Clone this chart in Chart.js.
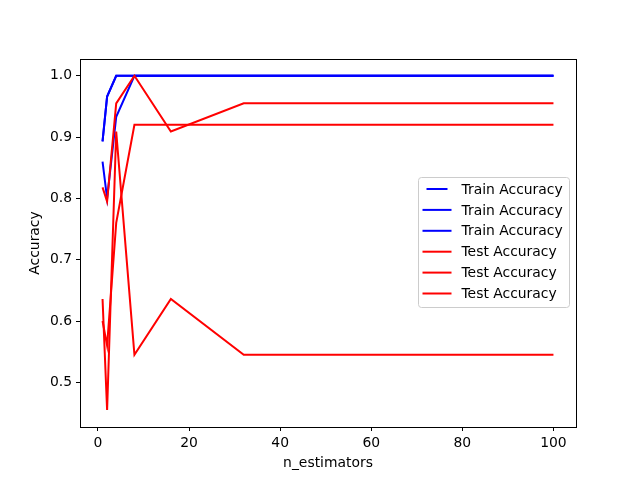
<!DOCTYPE html>
<html>
<head>
<meta charset="utf-8">
<script src="https://cdn.jsdelivr.net/npm/chart.js@4/dist/chart.umd.min.js"></script>
<style>
  html, body { margin: 0; padding: 0; background: #fff; }
  #wrap { width: 640px; height: 480px; }
</style>
</head>
<body>
<div id="wrap"><canvas id="chart" width="640" height="480"></canvas></div>
<script>
// n_estimators values on the x axis
const nEstimators = [1, 2, 4, 8, 16, 32, 64, 100];

// accuracy curves
const trainAccA = [0.893, 0.966, 1.0, 1.0, 1.0, 1.0, 1.0, 1.0];
const trainAccB = [0.860, 0.800, 0.933, 1.0, 1.0, 1.0, 1.0, 1.0];
const trainAccC = [0.893, 0.966, 1.0, 1.0, 1.0, 1.0, 1.0, 1.0];
const testAccA = [0.818, 0.795, 0.955, 1.0, 0.909, 0.955, 0.955, 0.955];
const testAccB = [0.600, 0.560, 0.760, 0.920, 0.920, 0.920, 0.920, 0.920];
const testAccC = [0.636, 0.455, 0.909, 0.545, 0.636, 0.545, 0.545, 0.545];

const seriesLabels = ['Train Accuracy', 'Train Accuracy', 'Train Accuracy',
                      'Test Accuracy', 'Test Accuracy', 'Test Accuracy'];

// tick labels
const xTicks = [0, 20, 40, 60, 80, 100];
const yTicks = [0.5, 0.6, 0.7, 0.8, 0.9, 1.0];

const FONT = "'DejaVu Sans', sans-serif";
const BLUE = '#0000ff';
const RED = '#ff0000';

function toPoints(ys) {
  return nEstimators.map((x, i) => ({ x: x, y: ys[i] }));
}

function makeSet(label, ys, color, order) {
  return {
    label: label,
    data: toPoints(ys),
    borderColor: color,
    backgroundColor: color,
    borderWidth: 2,
    pointRadius: 0,
    tension: 0,
    fill: false,
    order: order
  };
}

const allSeries = [trainAccA, trainAccB, trainAccC, testAccA, testAccB, testAccC];
const datasets = allSeries.map((ys, i) =>
  makeSet(seriesLabels[i], ys, i < 3 ? BLUE : RED, i < 3 ? 1 : 0));

/**
 * Frame + matplotlib-like legend box
 */
const mplDecor = {
  id: 'mplDecor',
  afterDraw(chart) {
    const ctx = chart.ctx;
    const area = chart.chartArea;
    ctx.save();

    // axes frame
    ctx.strokeStyle = '#000';
    ctx.lineWidth = 1;
    ctx.strokeRect(Math.round(area.left) + 0.5, Math.round(area.top) + 0.5,
      Math.round(area.right - area.left), Math.round(area.bottom - area.top));

    // legend
    const items = chart.data.datasets;
    const rowH = 20.9;
    const boxW = 151, boxH = 130;
    const boxX = area.right - 7 - boxW;
    const boxY = (area.top + area.bottom) / 2 - boxH / 2 - 1;
    ctx.beginPath();
    ctx.roundRect(boxX + 0.5, boxY + 0.5, boxW, boxH, 3);
    ctx.fillStyle = 'rgba(255,255,255,0.8)';
    ctx.fill();
    ctx.strokeStyle = '#cccccc';
    ctx.stroke();

    ctx.font = '13.9px ' + FONT;
    ctx.textBaseline = 'middle';
    ctx.textAlign = 'left';
    items.forEach((ds, i) => {
      const cy = boxY + 12 + rowH * i;
      const x0 = i === 0 ? boxX + 8.5 : boxX + 4.5;
      const x1 = i === 0 ? boxX + 29.5 : boxX + 33.5;
      ctx.beginPath();
      ctx.moveTo(x0, cy);
      ctx.lineTo(x1, cy);
      ctx.strokeStyle = ds.borderColor;
      ctx.lineWidth = 2;
      ctx.stroke();
      ctx.fillStyle = '#000';
      ctx.fillText(ds.label, boxX + 43.5, cy + 1);
    });
    ctx.restore();
  }
};

new Chart(document.getElementById('chart'), {
  type: 'line',
  data: { datasets: datasets },
  options: {
    responsive: false,
    animation: false,
    devicePixelRatio: 1,
    layout: {
      padding: { left: 0, top: 59, right: 64, bottom: 0 }
    },
    plugins: {
      legend: { display: false },
      tooltip: { enabled: false }
    },
    scales: {
      x: {
        type: 'linear',
        min: -3.95,
        max: 104.95,
        afterFit: (scale) => { scale.height = 53; },
        afterBuildTicks: (scale) => {
          scale.ticks = xTicks.map(v => ({ value: v }));
        },
        grid: {
          drawOnChartArea: false,
          drawTicks: true,
          tickLength: 4,
          color: '#000'
        },
        border: { display: true, color: '#000', width: 1 },
        ticks: {
          color: '#000',
          padding: 4,
          maxRotation: 0,
          font: { family: FONT, size: 13.9 },
          callback: (v) => String(v)
        },
        title: {
          display: true,
          text: 'n_estimators',
          color: '#000',
          padding: 8.6,
          font: { family: FONT, size: 13.9 }
        }
      },
      y: {
        type: 'linear',
        min: 0.4272,
        max: 1.0273,
        afterFit: (scale) => { scale.width = 80; },
        afterBuildTicks: (scale) => {
          scale.ticks = yTicks.map(v => ({ value: v }));
        },
        grid: {
          drawOnChartArea: false,
          drawTicks: true,
          tickLength: 4,
          color: '#000'
        },
        border: { display: true, color: '#000', width: 1 },
        ticks: {
          color: '#000',
          padding: 4,
          font: { family: FONT, size: 13.9 },
          callback: (v) => Number(v).toFixed(1)
        },
        title: {
          display: true,
          text: 'Accuracy',
          color: '#000',
          padding: 26.6,
          font: { family: FONT, size: 13.9 }
        }
      }
    }
  },
  plugins: [mplDecor]
});
</script>
</body>
</html>
